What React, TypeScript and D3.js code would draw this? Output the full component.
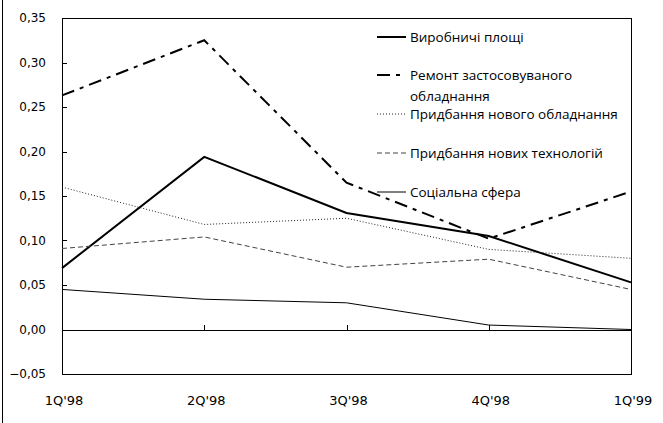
import React from 'react';
import * as d3 from 'd3';

const quarters = ["1Q'98", "2Q'98", "3Q'98", "4Q'98", "1Q'99"];
const yTicks = [-0.05, 0, 0.05, 0.1, 0.15, 0.2, 0.25, 0.3, 0.35];

const vyrobnychi = [0.069, 0.194, 0.131, 0.105, 0.053];
const remont = [0.263, 0.325, 0.165, 0.102, 0.155];
const novogoObl = [0.160, 0.118, 0.125, 0.090, 0.080];
const novykhTekh = [0.091, 0.104, 0.070, 0.079, 0.045];
const sotsialna = [0.045, 0.034, 0.030, 0.005, 0.0];

const seriesNames = [
  ['Виробничі площі'],
  ['Ремонт застосовуваного', 'обладнання'],
  ['Придбання нового обладнання'],
  ['Придбання нових технологій'],
  ['Соціальна сфера'],
];

const W = 663;
const H = 423;
const left = 62, right = 631, top = 18, bottom = 374;

// line styles per series
const styles = [
  { stroke: '#000', width: 2, dash: null },
  { stroke: '#000', width: 2, dash: '13,6,4,6' },
  { stroke: '#222', width: 1, dash: '1,2' },
  { stroke: '#444', width: 1, dash: '5,3' },
  { stroke: '#000', width: 1, dash: null },
];

const App = () => {
  const all = [vyrobnychi, remont, novogoObl, novykhTekh, sotsialna];

  const x = d3.scalePoint<string>().domain(quarters).range([left, right]);
  const y = d3.scaleLinear().domain([-0.05, 0.35]).range([bottom, top]);

  const line = d3.line<number>()
    .x((d, i) => x(quarters[i]) as number)
    .y(d => y(d));

  const fmt = (v: number) => d3.format('.2f')(v).replace('.', ',');
  const tickFont = '"DejaVu Sans", sans-serif';
  const legFont = '"Open Sans", sans-serif';

  // legend rows (y centers)
  const legRows = [37, 75, 114, 153, 192];

  return (
    <svg width={W} height={H} style={{ position: 'absolute', left: 0, top: 0 }}>
      <rect x={0} y={0} width={W} height={H} fill="#fff" />
      <line x1={2.5} x2={2.5} y1={0} y2={H} stroke="#000" strokeWidth={1} />

      {/* plot frame */}
      <rect x={left + 0.5} y={top + 0.5} width={right - left} height={bottom - top}
        fill="none" stroke="#000" strokeWidth={1} />

      {/* zero line with inside ticks */}
      <line x1={left} x2={right} y1={Math.round(y(0)) + 0.5} y2={Math.round(y(0)) + 0.5} stroke="#000" />
      {quarters.map(q => (
        <line key={q} x1={Math.round(x(q) as number) + 0.5} x2={Math.round(x(q) as number) + 0.5}
          y1={Math.round(y(0))} y2={Math.round(y(0)) - 5} stroke="#000" />
      ))}

      {/* y ticks and labels */}
      {yTicks.map(t => (
        <g key={t}>
          <line x1={left} x2={left + 5} y1={Math.round(y(t)) + 0.5} y2={Math.round(y(t)) + 0.5} stroke="#000" />
          <text x={46} y={y(t)} dy="0.36em" textAnchor="end" fontFamily={tickFont} fontSize={12} fill="#000">
            {fmt(t)}
          </text>
        </g>
      ))}

      {/* x labels */}
      {quarters.map(q => (
        <text key={q} x={(x(q) as number) + 2} y={400} dy="0.36em" textAnchor="middle" fontFamily={tickFont} fontSize={13} fill="#000">
          {q}
        </text>
      ))}

      {/* series */}
      {all.map((s, i) => (
        <path key={i} d={line(s) || ''} fill="none" stroke={styles[i].stroke}
          strokeWidth={styles[i].width} strokeDasharray={styles[i].dash || undefined} />
      ))}

      {/* legend */}
      {seriesNames.map((lines, i) => (
        <g key={i}>
          <line x1={377} x2={406} y1={legRows[i]} y2={legRows[i]} stroke={styles[i].stroke}
            strokeWidth={styles[i].width} strokeDasharray={styles[i].dash || undefined} />
          {lines.map((t, j) => (
            <text key={j} x={410} y={legRows[i] + j * 21} dy="0.36em" fontFamily={legFont} fontSize={13.5} fill="#000">
              {t}
            </text>
          ))}
        </g>
      ))}
    </svg>
  );
};

export default App;
